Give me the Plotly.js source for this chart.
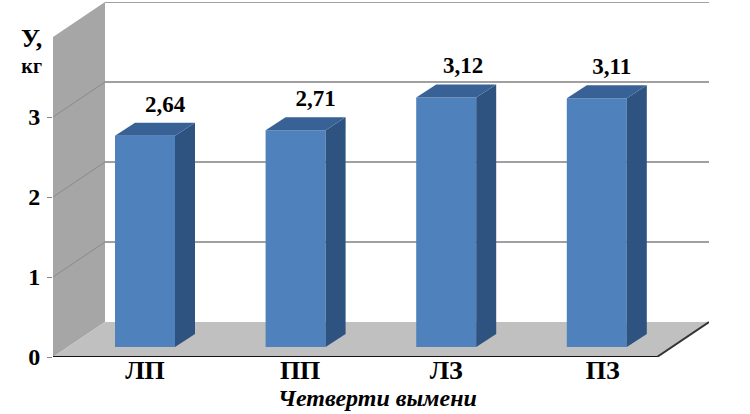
<!DOCTYPE html>
<html>
<head>
<meta charset="utf-8">
<script src="https://cdn.plot.ly/plotly-3.0.1.min.js"></script>
<style>body { margin: 0; background: #fff; }</style>
</head>
<body>
<div id="plot" style="width:750px;height:414px;"></div>
<script>
// Chart values
var categories = ['ЛП', 'ПП', 'ЛЗ', 'ПЗ'];
var values = [2.64, 2.71, 3.12, 3.11];
var yTicks = [0, 1, 2, 3];

var serif = '"Liberation Serif", serif';
var positions = categories.map(function (c, i) { return i; });

// 1 category = 150.6px, 1 kg = 80px on screen
var pxX = 150.6, pxY = 80;
var xRange = [-92 / pxX, 564 / pxX];
var yRange = [0, 355 / pxY];

// false 3d: how far the back wall and the bar backs are shifted
var wallDx = 52 / pxX, wallDy = 35 / pxY;
var barDx = 20 / pxX, barDy = 13 / pxY;
var halfBar = 30 / pxX, barBase = 10 / pxY;
var floorRight = xRange[1] - wallDx;
var wallTop = 4;

// labels are not quite centred over the bars in the original
var labelShift = [20, 20, 17, 15];

function poly(points, color, line) {
  var path = points.map(function (p, i) {
    return (i ? 'L' : 'M') + p[0] + ',' + p[1];
  }).join(' ') + ' Z';
  return {
    type: 'path', path: path, xref: 'x', yref: 'y', layer: 'below',
    fillcolor: color, line: line || {width: 0}
  };
}

function seg(x0, y0, x1, y1, color, width) {
  return {
    type: 'line', xref: 'x', yref: 'y', layer: 'below',
    x0: x0, y0: y0, x1: x1, y1: y1,
    line: {color: color, width: width}
  };
}

var shapes = [
  // left wall and floor
  poly([[xRange[0], 0], [xRange[0] + wallDx, wallDy], [xRange[0] + wallDx, wallTop + wallDy], [xRange[0], wallTop]], '#a6a6a6'),
  poly([[xRange[0], 0], [floorRight, 0], [xRange[1], wallDy], [xRange[0] + wallDx, wallDy]], '#c0c0c0')
];

// gridlines run along the left wall, then along the back wall
[1, 2, 3, 4].forEach(function (v) {
  if (v < 4) shapes.push(seg(xRange[0], v, xRange[0] + wallDx, v + wallDy, '#8a8a8a', 1));
  shapes.push(seg(xRange[0] + wallDx, v + wallDy, xRange[1], v + wallDy, '#a0a0a0', 2));
});
shapes.push(seg(xRange[0], 0, floorRight, 0, '#111111', 2));
shapes.push(seg(floorRight, 0, xRange[1], wallDy, '#333333', 2));

var data = [{
  type: 'bar',
  x: positions,
  y: values,
  base: barBase,
  width: halfBar * 2,
  marker: {color: '#4f81bd'}
}];

// side and top faces of each bar
values.forEach(function (v, i) {
  var right = i + halfBar, left = i - halfBar, top = barBase + v;
  data.push({
    type: 'scatter', mode: 'lines', fill: 'toself', fillcolor: '#2f5380',
    line: {width: 0},
    x: [right, right + barDx, right + barDx, right, right],
    y: [barBase, barBase + barDy, top + barDy, top, barBase]
  });
  data.push({
    type: 'scatter', mode: 'lines', fill: 'toself', fillcolor: '#386296',
    line: {width: 0},
    x: [left, left + barDx, right + barDx, right, left],
    y: [top, top + barDy, top + barDy, top, top]
  });
});

// value labels sit above the bar tops
data.push({
  type: 'scatter',
  mode: 'text',
  x: positions.map(function (p, i) { return p + labelShift[i] / pxX; }),
  y: values.map(function (v) { return v + barBase + 30 / pxY; }),
  text: values.map(function (v) { return v.toFixed(2).replace('.', ','); }),
  textposition: 'middle center',
  textfont: {family: serif, size: 23, color: '#000', weight: 'bold'}
});

var layout = {
  width: 750,
  height: 414,
  margin: {l: 53, r: 41, t: 2, b: 57, pad: 0},
  paper_bgcolor: '#fff',
  plot_bgcolor: '#fff',
  showlegend: false,
  hovermode: false,
  xaxis: {
    range: xRange,
    showgrid: false,
    zeroline: false,
    showline: false,
    tickmode: 'array',
    tickvals: [0, 1.03, 2, 3.04],
    ticktext: categories,
    ticks: '',
    ticklabelstandoff: -5,
    tickfont: {family: serif, size: 26, color: '#000', weight: 'bold'}
  },
  yaxis: {
    range: yRange,
    showgrid: false,
    zeroline: false,
    showline: false,
    tickmode: 'array',
    tickvals: yTicks,
    ticktext: yTicks.map(String),
    ticks: 'outside',
    ticklen: 5,
    tickcolor: '#888',
    ticklabelstandoff: 2,
    tickfont: {family: serif, size: 24, color: '#000', weight: 'bold'}
  },
  shapes: shapes,
  annotations: [
    {
      xref: 'paper', yref: 'paper', x: (377 - 53) / 656, y: -41 / 355,
      xanchor: 'center', yanchor: 'middle', showarrow: false,
      text: '<b><i>Четверти вымени</i></b>',
      font: {family: serif, size: 24, color: '#000'}
    },
    {
      xref: 'paper', yref: 'paper', x: -22 / 656, y: 307 / 355,
      xanchor: 'center', yanchor: 'middle', showarrow: false,
      text: '<b><span style="font-size:26px">У,</span><br>кг</b>',
      font: {family: serif, size: 20, color: '#000'}
    }
  ]
};

Plotly.newPlot('plot', data, layout, {displayModeBar: false, staticPlot: true});
</script>
</body>
</html>
